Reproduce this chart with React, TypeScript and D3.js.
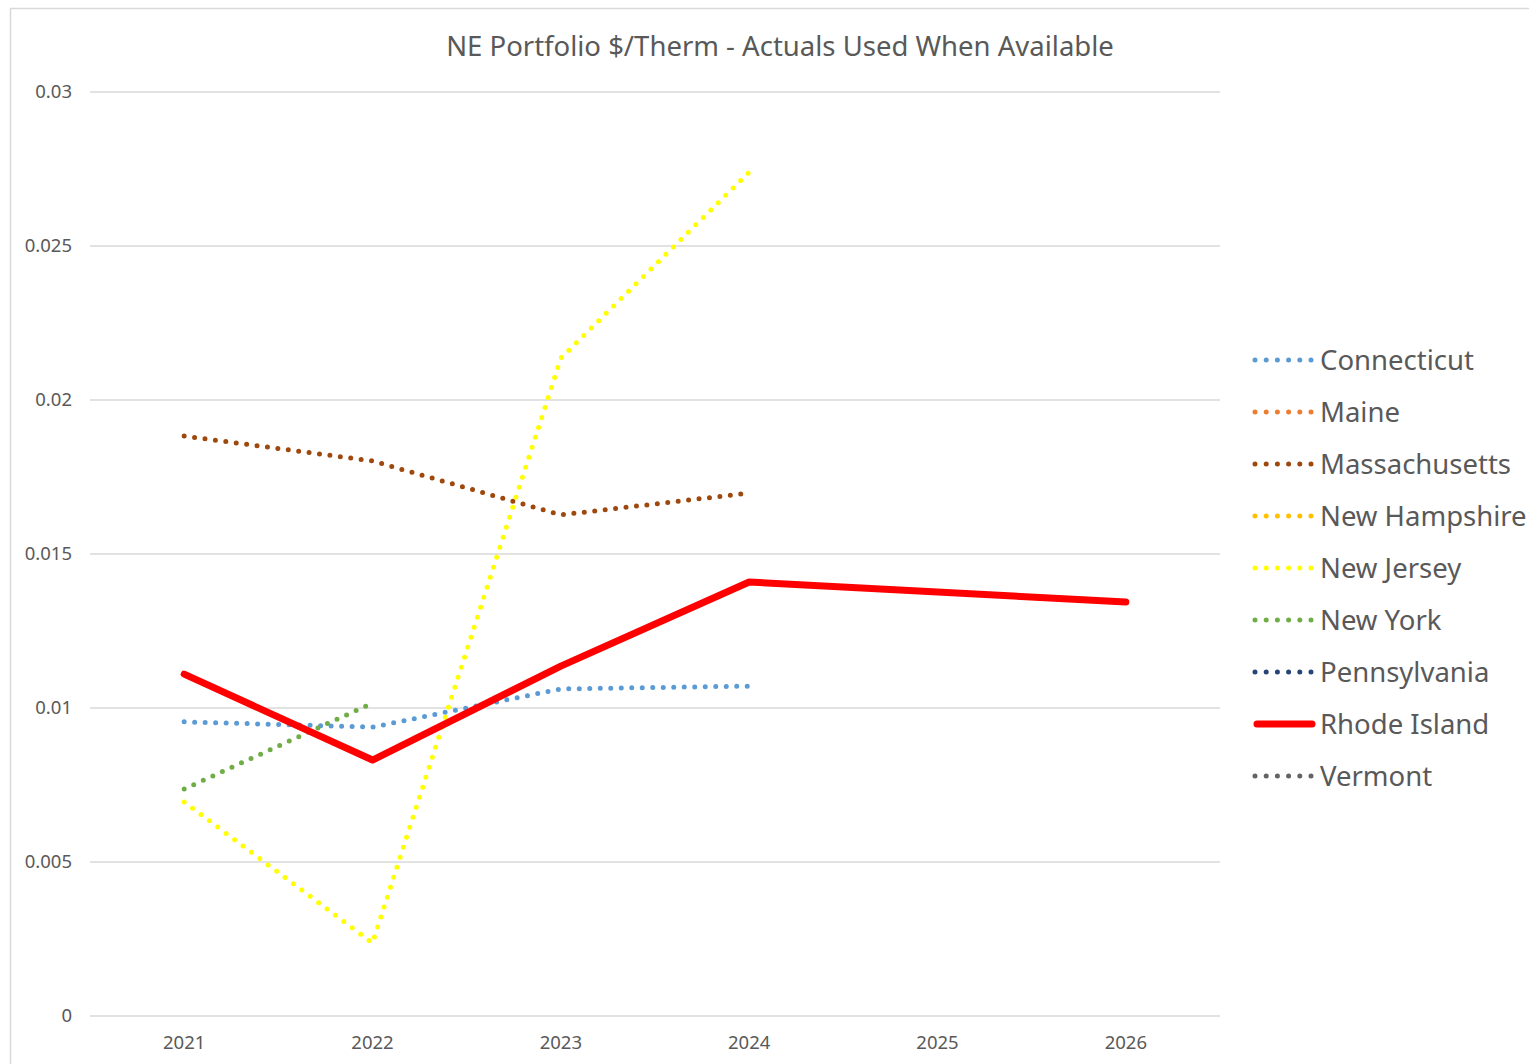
import React, { useEffect, useRef } from 'react';
import * as d3 from 'd3';

const years = ['2021', '2022', '2023', '2024', '2025', '2026'];
const yTicks = [0, 0.005, 0.01, 0.015, 0.02, 0.025, 0.03];

const connecticut = [0.00955, 0.00938, 0.01062, 0.01071, null, null];
const maine = [null, null, null, null, null, null];
const massachusetts = [0.01883, 0.01802, 0.01627, 0.01698, null, null];
const newHampshire = [null, null, null, null, null, null];
const newJersey = [0.00695, 0.00237, 0.02136, 0.0274, null, null];
const newYork = [0.00737, 0.01016, null, null, null, null];
const pennsylvania = [null, null, null, null, null, null];
const rhodeIsland = [0.0111, 0.00831, 0.01136, 0.01409, null, 0.01344];
const vermont = [null, null, null, null, null, null];

const seriesNames = [
  'Connecticut', 'Maine', 'Massachusetts', 'New Hampshire', 'New Jersey',
  'New York', 'Pennsylvania', 'Rhode Island', 'Vermont',
];
const seriesValues = [
  connecticut, maine, massachusetts, newHampshire, newJersey,
  newYork, pennsylvania, rhodeIsland, vermont,
];
const seriesColors = [
  '#5B9BD5', '#ED7D31', '#9E480E', '#FFC000', '#FFFF00',
  '#70AD47', '#264478', '#FF0000', '#636363',
];

const FONT = '"Noto Sans", "Open Sans", sans-serif';
const TEXT = '#595959';

const App = () => {
  const ref = useRef(null);

  useEffect(() => {
    if (!ref.current) return;
    const svg = d3.select(ref.current);
    svg.selectAll('*').remove();

    const left = 90;
    const right = 1220;
    const top = 92;
    const bottom = 1016;

    // chart border
    svg
      .append('rect')
      .attr('x', 10.5)
      .attr('y', 8.5)
      .attr('width', 1600)
      .attr('height', 1200)
      .attr('fill', '#fff')
      .attr('stroke', '#d9d9d9')
      .attr('stroke-width', 1.5);

    const x = d3.scalePoint().domain(years).range([left, right]).padding(0.5);
    const y = d3.scaleLinear().domain([0, 0.03]).range([bottom, top]);

    // grid lines
    svg
      .append('g')
      .selectAll('line')
      .data(yTicks)
      .join('line')
      .attr('x1', left)
      .attr('x2', right)
      .attr('y1', (d) => y(d))
      .attr('y2', (d) => y(d))
      .attr('stroke', '#d9d9d9')
      .attr('stroke-width', 1.5);

    // y labels
    svg
      .append('g')
      .selectAll('text')
      .data(yTicks)
      .join('text')
      .attr('x', 72)
      .attr('y', (d) => y(d))
      .attr('dy', '0.35em')
      .attr('text-anchor', 'end')
      .style('font-family', FONT)
      .style('font-size', '18.5px')
      .style('fill', TEXT)
      .text((d) => (d === 0 ? '0' : String(d)));

    // x labels
    svg
      .append('g')
      .selectAll('text')
      .data(years)
      .join('text')
      .attr('x', (d) => x(d))
      .attr('y', 1043)
      .attr('dy', '0.35em')
      .attr('text-anchor', 'middle')
      .style('font-family', FONT)
      .style('font-size', '18.5px')
      .style('fill', TEXT)
      .text((d) => d);

    // title
    svg
      .append('text')
      .attr('x', 780)
      .attr('y', 46)
      .attr('dy', '0.35em')
      .attr('text-anchor', 'middle')
      .style('font-family', FONT)
      .style('font-size', '27.5px')
      .style('fill', TEXT)
      .text('NE Portfolio $/Therm - Actuals Used When Available');

    // lines
    const lines = svg.append('g');
    seriesNames.forEach((name, i) => {
      const pts = years
        .map((yr, j) => ({ yr, v: seriesValues[i][j] }))
        .filter((p) => p.v !== null);
      if (pts.length < 2) return;
      const solid = name === 'Rhode Island';
      const line = d3
        .line()
        .x((p) => x(p.yr))
        .y((p) => y(p.v));
      lines
        .append('path')
        .attr('d', line(pts))
        .attr('fill', 'none')
        .attr('stroke', seriesColors[i])
        .attr('stroke-width', solid ? 7 : 5)
        .attr('stroke-linecap', 'round')
        .attr('stroke-linejoin', 'round')
        .attr('stroke-dasharray', solid ? null : '0 10.5');
    });

    // legend
    const legend = svg.append('g');
    seriesNames.forEach((name, i) => {
      const ly = 360 + i * 52;
      const solid = name === 'Rhode Island';
      legend
        .append('line')
        .attr('x1', solid ? 1257 : 1255)
        .attr('x2', solid ? 1312 : 1311.5)
        .attr('y1', ly)
        .attr('y2', ly)
        .attr('stroke', seriesColors[i])
        .attr('stroke-width', solid ? 7 : 5)
        .attr('stroke-linecap', 'round')
        .attr('stroke-dasharray', solid ? null : '0 11.2');
      legend
        .append('text')
        .attr('x', 1320)
        .attr('y', ly)
        .attr('dy', '0.35em')
        .style('font-family', FONT)
        .style('font-size', '27.5px')
        .style('fill', TEXT)
        .text(name);
    });
  }, []);

  return (
    <svg
      ref={ref}
      width={1529}
      height={1064}
      style={{ position: 'absolute', left: 0, top: 0, background: '#fff' }}
    />
  );
};

export default App;
